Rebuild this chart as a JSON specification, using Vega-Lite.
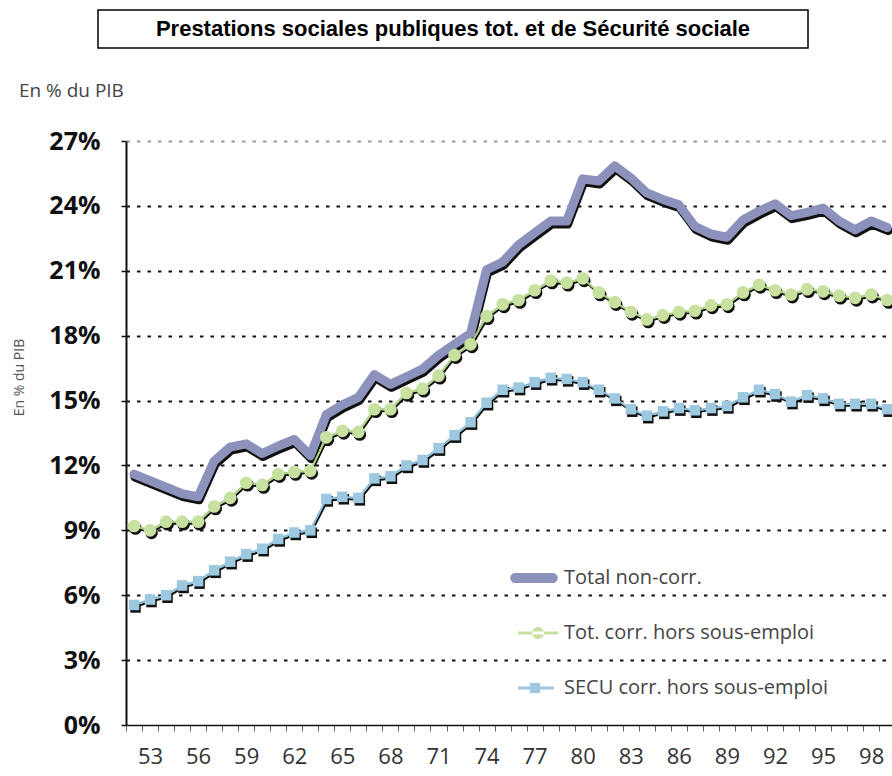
{
  "$schema": "https://vega.github.io/schema/vega-lite/v6.json",
  "background": "white",
  "padding": {"left": 12, "top": 9, "right": 0, "bottom": 8},
  "spacing": 33,
  "center": true,
  "resolve": {"legend": {"color": "independent", "shape": "independent"}},
  "datasets": {
    "total": [
      {"year":1952,"v":11.6},{"year":1953,"v":11.3},{"year":1954,"v":11.0},{"year":1955,"v":10.7},{"year":1956,"v":10.55},{"year":1957,"v":12.2},{"year":1958,"v":12.85},{"year":1959,"v":13.0},{"year":1960,"v":12.55},{"year":1961,"v":12.9},{"year":1962,"v":13.2},{"year":1963,"v":12.45},{"year":1964,"v":14.35},{"year":1965,"v":14.8},{"year":1966,"v":15.15},{"year":1967,"v":16.2},{"year":1968,"v":15.75},{"year":1969,"v":16.1},{"year":1970,"v":16.45},{"year":1971,"v":17.1},{"year":1972,"v":17.6},{"year":1973,"v":18.1},{"year":1974,"v":21.05},{"year":1975,"v":21.4},{"year":1976,"v":22.2},{"year":1977,"v":22.75},{"year":1978,"v":23.3},{"year":1979,"v":23.3},{"year":1980,"v":25.25},{"year":1981,"v":25.15},{"year":1982,"v":25.85},{"year":1983,"v":25.3},{"year":1984,"v":24.6},{"year":1985,"v":24.3},{"year":1986,"v":24.05},{"year":1987,"v":23.05},{"year":1988,"v":22.7},{"year":1989,"v":22.55},{"year":1990,"v":23.35},{"year":1991,"v":23.75},{"year":1992,"v":24.1},{"year":1993,"v":23.55},{"year":1994,"v":23.7},{"year":1995,"v":23.9},{"year":1996,"v":23.3},{"year":1997,"v":22.9},{"year":1998,"v":23.3},{"year":1999,"v":23.0}
    ],
    "tot": [
      {"year":1952,"v":9.2},{"year":1953,"v":9.0},{"year":1954,"v":9.4},{"year":1955,"v":9.4},{"year":1956,"v":9.4},{"year":1957,"v":10.1},{"year":1958,"v":10.5},{"year":1959,"v":11.2},{"year":1960,"v":11.1},{"year":1961,"v":11.6},{"year":1962,"v":11.7},{"year":1963,"v":11.75},{"year":1964,"v":13.3},{"year":1965,"v":13.6},{"year":1966,"v":13.55},{"year":1967,"v":14.6},{"year":1968,"v":14.6},{"year":1969,"v":15.35},{"year":1970,"v":15.55},{"year":1971,"v":16.15},{"year":1972,"v":17.1},{"year":1973,"v":17.6},{"year":1974,"v":18.9},{"year":1975,"v":19.45},{"year":1976,"v":19.65},{"year":1977,"v":20.1},{"year":1978,"v":20.55},{"year":1979,"v":20.45},{"year":1980,"v":20.65},{"year":1981,"v":20.0},{"year":1982,"v":19.55},{"year":1983,"v":19.1},{"year":1984,"v":18.75},{"year":1985,"v":18.95},{"year":1986,"v":19.1},{"year":1987,"v":19.15},{"year":1988,"v":19.4},{"year":1989,"v":19.45},{"year":1990,"v":20.0},{"year":1991,"v":20.35},{"year":1992,"v":20.1},{"year":1993,"v":19.9},{"year":1994,"v":20.15},{"year":1995,"v":20.05},{"year":1996,"v":19.85},{"year":1997,"v":19.75},{"year":1998,"v":19.9},{"year":1999,"v":19.65}
    ],
    "secu": [
      {"year":1952,"v":5.55},{"year":1953,"v":5.8},{"year":1954,"v":6.0},{"year":1955,"v":6.45},{"year":1956,"v":6.65},{"year":1957,"v":7.15},{"year":1958,"v":7.55},{"year":1959,"v":7.9},{"year":1960,"v":8.15},{"year":1961,"v":8.6},{"year":1962,"v":8.9},{"year":1963,"v":9.0},{"year":1964,"v":10.45},{"year":1965,"v":10.55},{"year":1966,"v":10.5},{"year":1967,"v":11.4},{"year":1968,"v":11.5},{"year":1969,"v":12.0},{"year":1970,"v":12.25},{"year":1971,"v":12.8},{"year":1972,"v":13.4},{"year":1973,"v":14.0},{"year":1974,"v":14.9},{"year":1975,"v":15.5},{"year":1976,"v":15.6},{"year":1977,"v":15.85},{"year":1978,"v":16.05},{"year":1979,"v":16.0},{"year":1980,"v":15.85},{"year":1981,"v":15.5},{"year":1982,"v":15.1},{"year":1983,"v":14.6},{"year":1984,"v":14.3},{"year":1985,"v":14.5},{"year":1986,"v":14.65},{"year":1987,"v":14.55},{"year":1988,"v":14.65},{"year":1989,"v":14.75},{"year":1990,"v":15.15},{"year":1991,"v":15.5},{"year":1992,"v":15.3},{"year":1993,"v":14.95},{"year":1994,"v":15.25},{"year":1995,"v":15.1},{"year":1996,"v":14.85},{"year":1997,"v":14.85},{"year":1998,"v":14.85},{"year":1999,"v":14.6}
    ],
    "legend": [
      {"series":"Total non-corr."},{"series":"Tot. corr. hors sous-emploi"},{"series":"SECU corr. hors sous-emploi"}
    ]
  },
  "vconcat": [
    {
      "spacing": 0,
      "hconcat": [
        {
          "data": {"values": [{"t": "Prestations sociales publiques tot. et de Sécurité sociale"}]},
          "width": 710,
          "height": 38,
          "view": {"stroke": "black", "strokeWidth": 1.5},
          "mark": {"type": "text", "font": "Liberation Sans", "fontWeight": "bold", "fontSize": 22, "color": "black"},
          "encoding": {"text": {"field": "t", "type": "nominal"}}
        },
        {
          "data": {"values": []},
          "width": 114,
          "height": 38,
          "view": {"stroke": null},
          "mark": {"type": "text"},
          "encoding": {}
        }
      ]
    },
    {
      "width": 766,
      "height": 584,
      "view": {"stroke": null},
      "title": {"text": "En % du PIB", "anchor": "start", "font": "Open Sans", "fontSize": 19, "fontWeight": "normal", "color": "#444", "offset": 28, "dx": 6},
      "encoding": {
        "x": {
          "field": "year", "type": "quantitative",
          "scale": {"domain": [1951.5, 1999.3], "nice": false, "zero": false},
          "axis": {
            "values": [1951.5,1952.5,1953.5,1954.5,1955.5,1956.5,1957.5,1958.5,1959.5,1960.5,1961.5,1962.5,1963.5,1964.5,1965.5,1966.5,1967.5,1968.5,1969.5,1970.5,1971.5,1972.5,1973.5,1974.5,1975.5,1976.5,1977.5,1978.5,1979.5,1980.5,1981.5,1982.5,1983.5,1984.5,1985.5,1986.5,1987.5,1988.5,1989.5,1990.5,1991.5,1992.5,1993.5,1994.5,1995.5,1996.5,1997.5,1998.5],
            "labelExpr": "(datum.value + 0.5) % 3 === 0 ? '' + ((datum.value + 0.5) % 100) : ''",
            "labelOffset": 8,
            "title": null,
            "grid": false,
            "labelFont": "Open Sans", "labelFontSize": 22, "labelColor": "#333", "labelPadding": 15,
            "labelOverlap": false, "labelBound": false, "labelFlush": false,
            "tickSize": 6, "tickColor": "#666", "tickWidth": 1,
            "domainColor": "#111", "domainWidth": 1.5
          }
        },
        "y": {
          "field": "v", "type": "quantitative",
          "scale": {"domain": [0, 27], "nice": false},
          "axis": {
            "values": [0,3,6,9,12,15,18,21,24,27],
            "labelExpr": "datum.value + '%'",
            "title": "En % du PIB",
            "titleFont": "Open Sans", "titleFontSize": 14, "titleFontWeight": "normal", "titleColor": "#555",
            "titlePadding": 22, "titleY": 236,
            "labelFont": "Open Sans", "labelFontSize": 25, "labelFontWeight": "bold", "labelColor": "#111", "labelPadding": 21,
            "tickSize": 5, "tickColor": "#111", "tickWidth": 1.5,
            "domainColor": "#111", "domainWidth": 2,
            "grid": true,
            "gridColor": {"condition": {"test": "datum.value === 27", "value": "#999"}, "value": "#111"},
            "gridOpacity": {"condition": {"test": "datum.value === 0", "value": 0}, "value": 1},
            "gridDash": [3.5, 7], "gridWidth": 2
          }
        }
      },
      "layer": [
        {"data": {"name": "total"}, "mark": {"type": "line", "color": "#111", "strokeWidth": 9, "yOffset": 3, "xOffset": 1, "strokeJoin": "round", "strokeCap": "round"}, "encoding": {}},
        {"data": {"name": "total"}, "mark": {"type": "line", "color": "#8C92BC", "strokeWidth": 9, "strokeJoin": "round", "strokeCap": "round"}, "encoding": {}},
        {"data": {"name": "tot"}, "mark": {"type": "line", "color": "#111", "strokeWidth": 2, "yOffset": 2, "xOffset": 1}, "encoding": {}},
        {"data": {"name": "tot"}, "mark": {"type": "point", "shape": "circle", "filled": true, "size": 160, "color": "#111", "opacity": 1, "yOffset": 2.5, "xOffset": 1.5}, "encoding": {}},
        {"data": {"name": "tot"}, "mark": {"type": "line", "color": "#A9CF7E", "strokeWidth": 2}, "encoding": {}},
        {"data": {"name": "tot"}, "mark": {"type": "point", "shape": "circle", "filled": true, "size": 160, "color": "#C8E1A0", "opacity": 1}, "encoding": {}},
        {"data": {"name": "secu"}, "mark": {"type": "line", "color": "#111", "strokeWidth": 2, "yOffset": 2, "xOffset": 1}, "encoding": {}},
        {"data": {"name": "secu"}, "mark": {"type": "point", "shape": "square", "filled": true, "size": 110, "color": "#111", "opacity": 1, "yOffset": 2.5, "xOffset": 1.5}, "encoding": {}},
        {"data": {"name": "secu"}, "mark": {"type": "line", "color": "#86BCD9", "strokeWidth": 2}, "encoding": {}},
        {"data": {"name": "secu"}, "mark": {"type": "point", "shape": "square", "filled": true, "size": 110, "color": "#9DC8E0", "opacity": 1}, "encoding": {}},
        {
          "data": {"name": "legend"},
          "transform": [{"filter": "datum.v != null"}],
          "mark": {"type": "point", "filled": true, "opacity": 1},
          "encoding": {
            "color": {
              "field": "series", "type": "nominal",
              "scale": {"domain": ["Total non-corr.", "Tot. corr. hors sous-emploi", "SECU corr. hors sous-emploi"], "range": ["#8C92BC", "#C8E1A0", "#9DC8E0"]},
              "legend": {"title": null, "orient": "none", "legendX": 383, "legendY": 412, "padding": 0, "symbolSize": 2304, "labelFont": "Open Sans", "labelFontSize": 20, "labelColor": "#444", "labelOffset": 5, "labelLimit": 400, "rowPadding": 20,
                "encode": {"symbols": {"update": {"stroke": {"value": "#444"}, "strokeWidth": {"value": 1}}}}}
            },
            "shape": {
              "field": "series", "type": "nominal",
              "scale": {"domain": ["Total non-corr.", "Tot. corr. hors sous-emploi", "SECU corr. hors sous-emploi"], "range": [
                "M-0.78,-0.21 H0.78 A0.21,0.21 0 0 1 0.78,0.21 H-0.78 A0.21,0.21 0 0 1 -0.78,-0.21 Z",
                "M-0.67,-0.06 H1 V0.06 H-0.67 Z M-0.08,0 A0.25,0.25 0 1 0 0.42,0 A0.25,0.25 0 1 0 -0.08,0 Z",
                "M-0.67,-0.06 H0.83 V0.06 H-0.67 Z M-0.17,-0.21 H0.25 V0.21 H-0.17 Z"
              ]},
              "legend": {"title": null, "orient": "none", "legendX": 383, "legendY": 412, "padding": 0, "symbolSize": 2304, "labelFont": "Open Sans", "labelFontSize": 20, "labelColor": "#444", "labelOffset": 5, "labelLimit": 400, "rowPadding": 20,
                "encode": {"symbols": {"update": {"stroke": {"value": "#444"}, "strokeWidth": {"value": 1}}}}}
            }
          }
        }
      ]
    }
  ]
}
